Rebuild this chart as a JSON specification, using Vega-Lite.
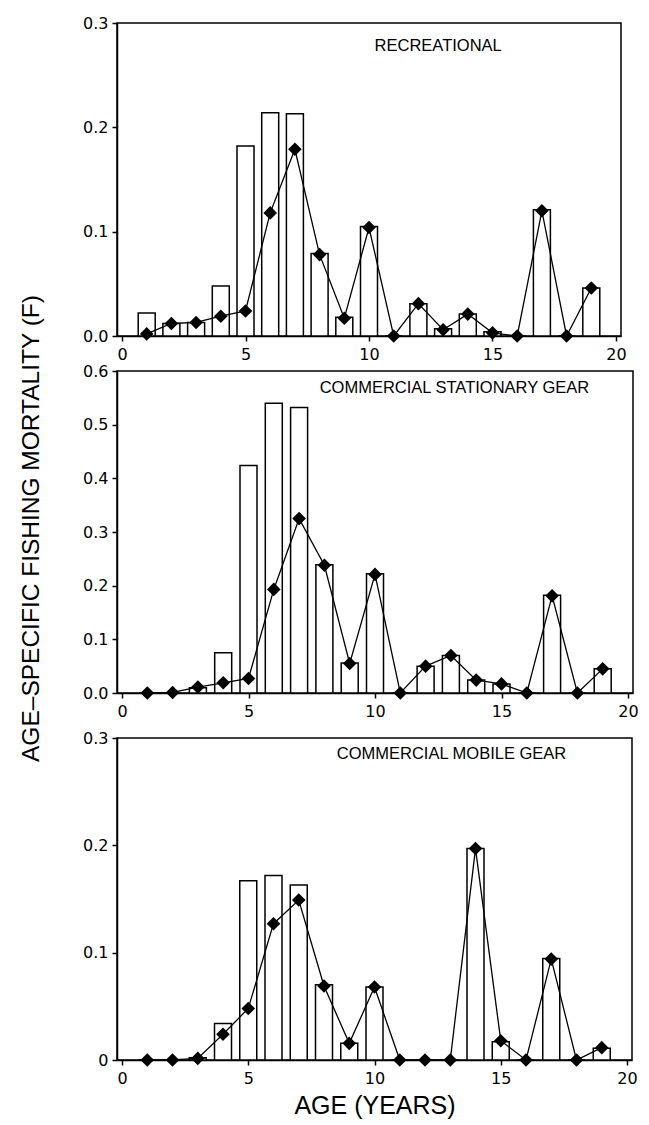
{
  "$schema": "https://vega.github.io/schema/vega-lite/v6.json",
  "background": "white",
  "padding": {"left": 19, "top": 14, "right": 5, "bottom": 5},
  "title": {"text": "AGE–SPECIFIC FISHING MORTALITY (F)", "orient": "left", "anchor": "middle", "font": "Liberation Sans", "fontSize": 24.5, "fontWeight": "normal", "color": "black", "offset": 37, "dx": 38},
  "config": {
    "view": {"stroke": "black", "strokeWidth": 1.5},
    "axis": {"domainColor": "black", "domainWidth": 1.5, "tickColor": "black", "tickWidth": 1.5, "tickSize": 5, "labelFont": "DejaVu Sans", "labelFontSize": 16, "labelColor": "black", "grid": false, "titleFont": "Liberation Sans", "titleFontWeight": "normal", "titleColor": "black", "labelPadding": 4}
  },
  "datasets": {
    "recreational": [
      {"age": 1, "bar": 0.022, "f": 0.002},
      {"age": 2, "bar": 0.012, "f": 0.012},
      {"age": 3, "bar": 0.013, "f": 0.013},
      {"age": 4, "bar": 0.048, "f": 0.019},
      {"age": 5, "bar": 0.182, "f": 0.024},
      {"age": 6, "bar": 0.214, "f": 0.118},
      {"age": 7, "bar": 0.213, "f": 0.179},
      {"age": 8, "bar": 0.079, "f": 0.078},
      {"age": 9, "bar": 0.018, "f": 0.017},
      {"age": 10, "bar": 0.105, "f": 0.104},
      {"age": 11, "bar": 0, "f": 0},
      {"age": 12, "bar": 0.031, "f": 0.031},
      {"age": 13, "bar": 0.007, "f": 0.006},
      {"age": 14, "bar": 0.021, "f": 0.021},
      {"age": 15, "bar": 0.004, "f": 0.003},
      {"age": 16, "bar": 0, "f": 0},
      {"age": 17, "bar": 0.121, "f": 0.12},
      {"age": 18, "bar": 0, "f": 0},
      {"age": 19, "bar": 0.046, "f": 0.046}
    ],
    "stationary": [
      {"age": 1, "bar": 0, "f": 0},
      {"age": 2, "bar": 0, "f": 0.001},
      {"age": 3, "bar": 0.01, "f": 0.011},
      {"age": 4, "bar": 0.075, "f": 0.019},
      {"age": 5, "bar": 0.424, "f": 0.027},
      {"age": 6, "bar": 0.54, "f": 0.193},
      {"age": 7, "bar": 0.532, "f": 0.325},
      {"age": 8, "bar": 0.239, "f": 0.238},
      {"age": 9, "bar": 0.056, "f": 0.055},
      {"age": 10, "bar": 0.222, "f": 0.221},
      {"age": 11, "bar": 0, "f": 0},
      {"age": 12, "bar": 0.05, "f": 0.05},
      {"age": 13, "bar": 0.07, "f": 0.07},
      {"age": 14, "bar": 0.024, "f": 0.024},
      {"age": 15, "bar": 0.017, "f": 0.017},
      {"age": 16, "bar": 0, "f": 0},
      {"age": 17, "bar": 0.182, "f": 0.181},
      {"age": 18, "bar": 0, "f": 0},
      {"age": 19, "bar": 0.045, "f": 0.045}
    ],
    "mobile": [
      {"age": 1, "bar": 0, "f": 0},
      {"age": 2, "bar": 0, "f": 0},
      {"age": 3, "bar": 0.002, "f": 0.0015},
      {"age": 4, "bar": 0.034, "f": 0.024},
      {"age": 5, "bar": 0.167, "f": 0.048},
      {"age": 6, "bar": 0.172, "f": 0.127},
      {"age": 7, "bar": 0.163, "f": 0.149},
      {"age": 8, "bar": 0.07, "f": 0.069},
      {"age": 9, "bar": 0.0155, "f": 0.0155},
      {"age": 10, "bar": 0.068, "f": 0.068},
      {"age": 11, "bar": 0, "f": 0},
      {"age": 12, "bar": 0, "f": 0},
      {"age": 13, "bar": 0, "f": 0},
      {"age": 14, "bar": 0.197, "f": 0.197},
      {"age": 15, "bar": 0.017, "f": 0.018},
      {"age": 16, "bar": 0, "f": 0},
      {"age": 17, "bar": 0.0945, "f": 0.094},
      {"age": 18, "bar": 0, "f": 0},
      {"age": 19, "bar": 0.011, "f": 0.0115}
    ],
    "titles": [
      {"panel": "recreational", "label": "RECREATIONAL"},
      {"panel": "stationary", "label": "COMMERCIAL STATIONARY GEAR"},
      {"panel": "mobile", "label": "COMMERCIAL MOBILE GEAR"}
    ]
  },
  "spacing": 9,
  "vconcat": [
    {
      "spacing": -1,
      "vconcat": [
        {
          "width": 504, "height": 313,
          "layer": [
            {"data": {"name": "recreational"}, "mark": {"type": "bar", "fill": "white", "stroke": "black", "strokeWidth": 1.5, "width": 17},
             "encoding": {
               "x": {"field": "age", "type": "quantitative", "scale": {"domain": [0, 20], "nice": false}, "axis": {"values": [0, 5, 10, 15, 20], "title": null, "labelPadding": 5}},
               "y": {"field": "bar", "type": "quantitative", "scale": {"domain": [0, 0.3], "nice": false}, "axis": {"values": [0, 0.1, 0.2, 0.3], "format": ".1f", "title": null}}}},
            {"data": {"name": "recreational"}, "mark": {"type": "line", "color": "black", "strokeWidth": 1.3},
             "encoding": {"x": {"field": "age", "type": "quantitative"}, "y": {"field": "f", "type": "quantitative"}}},
            {"data": {"name": "recreational"}, "mark": {"type": "point", "shape": "diamond", "filled": true, "fill": "black", "opacity": 1, "size": 185, "strokeWidth": 0},
             "encoding": {"x": {"field": "age", "type": "quantitative"}, "y": {"field": "f", "type": "quantitative"}}},
            {"data": {"name": "titles"}, "transform": [{"filter": "datum.panel === 'recreational'"}],
             "mark": {"type": "text", "font": "Liberation Sans", "fontSize": 16.5, "color": "black", "align": "center", "baseline": "middle"},
             "encoding": {"x": {"datum": 12.8}, "y": {"datum": 0.278}, "text": {"field": "label", "type": "nominal"}}}
          ]
        },
        {
          "width": 516, "height": 322,
          "layer": [
            {"data": {"name": "stationary"}, "mark": {"type": "bar", "fill": "white", "stroke": "black", "strokeWidth": 1.5, "width": 17},
             "encoding": {
               "x": {"field": "age", "type": "quantitative", "scale": {"domain": [0, 20], "nice": false}, "axis": {"values": [0, 5, 10, 15, 20], "title": null, "labelPadding": 5}},
               "y": {"field": "bar", "type": "quantitative", "scale": {"domain": [0, 0.6], "nice": false}, "axis": {"values": [0, 0.1, 0.2, 0.3, 0.4, 0.5, 0.6], "format": ".1f", "title": null}}}},
            {"data": {"name": "stationary"}, "mark": {"type": "line", "color": "black", "strokeWidth": 1.3},
             "encoding": {"x": {"field": "age", "type": "quantitative"}, "y": {"field": "f", "type": "quantitative"}}},
            {"data": {"name": "stationary"}, "mark": {"type": "point", "shape": "diamond", "filled": true, "fill": "black", "opacity": 1, "size": 185, "strokeWidth": 0},
             "encoding": {"x": {"field": "age", "type": "quantitative"}, "y": {"field": "f", "type": "quantitative"}}},
            {"data": {"name": "titles"}, "transform": [{"filter": "datum.panel === 'stationary'"}],
             "mark": {"type": "text", "font": "Liberation Sans", "fontSize": 16.5, "color": "black", "align": "center", "baseline": "middle"},
             "encoding": {"x": {"datum": 13.14}, "y": {"datum": 0.568}, "text": {"field": "label", "type": "nominal"}}}
          ]
        }
      ]
    },
    {
      "vconcat": [
        {
          "width": 515, "height": 322,
          "layer": [
            {"data": {"name": "mobile"}, "mark": {"type": "bar", "fill": "white", "stroke": "black", "strokeWidth": 1.5, "width": 17},
             "encoding": {
               "x": {"field": "age", "type": "quantitative", "scale": {"domain": [0, 20], "nice": false}, "axis": {"values": [0, 5, 10, 15, 20], "title": "AGE (YEARS)", "titleFontSize": 25, "titlePadding": 7, "labelPadding": 5}},
               "y": {"field": "bar", "type": "quantitative", "scale": {"domain": [0, 0.3], "nice": false}, "axis": {"values": [0, 0.1, 0.2, 0.3], "labelExpr": "datum.value === 0 ? '0' : format(datum.value, '.1f')", "title": null}}}},
            {"data": {"name": "mobile"}, "mark": {"type": "line", "color": "black", "strokeWidth": 1.3},
             "encoding": {"x": {"field": "age", "type": "quantitative"}, "y": {"field": "f", "type": "quantitative"}}},
            {"data": {"name": "mobile"}, "mark": {"type": "point", "shape": "diamond", "filled": true, "fill": "black", "opacity": 1, "size": 185, "strokeWidth": 0},
             "encoding": {"x": {"field": "age", "type": "quantitative"}, "y": {"field": "f", "type": "quantitative"}}},
            {"data": {"name": "titles"}, "transform": [{"filter": "datum.panel === 'mobile'"}],
             "mark": {"type": "text", "font": "Liberation Sans", "fontSize": 16.5, "color": "black", "align": "center", "baseline": "middle"},
             "encoding": {"x": {"datum": 13.05}, "y": {"datum": 0.285}, "text": {"field": "label", "type": "nominal"}}}
          ]
        }
      ]
    }
  ]
}
